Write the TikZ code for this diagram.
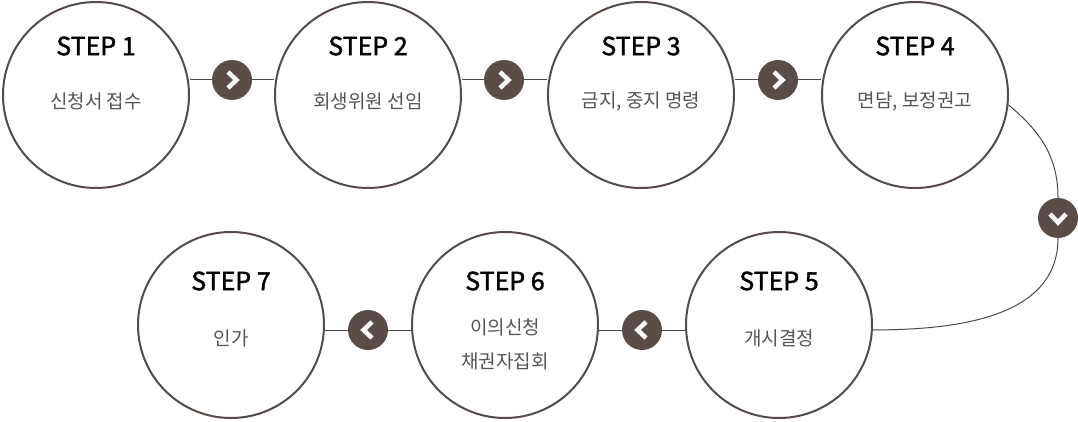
\documentclass[tikz,border=0pt]{standalone}
\usepackage{fontspec}
\setmainfont{Noto Sans CJK KR}
\newfontfamily\stepfont[FakeBold=1.6]{Noto Sans CJK KR}
\usetikzlibrary{arrows,positioning}
\definecolor{ring}{HTML}{564B47}
\definecolor{badgefill}{HTML}{5A4C47}
\definecolor{wiregray}{HTML}{4A4A4A}
\definecolor{bodytext}{HTML}{555555}
\tikzset{
    %Define style for step circles
    stepcirc/.style={
           circle,
           draw=ring, line width=2pt,
           fill=white,
           minimum size=186pt,
           inner sep=0pt},
    %Define style for arrow badges
    badge/.style={
           circle,
           fill=badgefill,
           minimum size=40pt,
           inner sep=0pt},
    steptitle/.style={
           font=\fontsize{25}{25}\selectfont\stepfont,
           text=black,
           inner sep=0pt},
    stepbody/.style={
           font=\fontsize{19}{34}\selectfont,
           text=bodytext,
           align=center,
           inner sep=0pt},
    % Define line styles
    wire/.style={
           draw=wiregray,
           line width=1pt},
    chev/.style={
           draw=white,
           line width=4.5pt,
           line join=miter}
}
\begin{document}
\begin{tikzpicture}[x=1pt,y=1pt]
\useasboundingbox (0,0) rectangle (1078,421);
\node[stepcirc](1) at (96,326){};
\node[stepcirc](2) at (368,326){};
\node[stepcirc](3) at (641,326){};
\node[stepcirc](4) at (915,326){};
\node[stepcirc](5) at (779,96){};
\node[stepcirc](6) at (505,96){};
\node[stepcirc](7) at (231,96){};
\node[steptitle](t1) at ([yshift=49]1.center){STEP 1};
\node[steptitle](t2) at ([yshift=49]2.center){STEP 2};
\node[steptitle](t3) at ([yshift=49]3.center){STEP 3};
\node[steptitle](t4) at ([yshift=49]4.center){STEP 4};
\node[steptitle](t5) at ([yshift=44]5.center){STEP 5};
\node[steptitle](t6) at ([yshift=44]6.center){STEP 6};
\node[steptitle](t7) at ([yshift=44]7.center){STEP 7};
\node[stepbody](b1) at ([yshift=-6]1.center){신청서 접수};
\node[stepbody](b2) at ([yshift=-6]2.center){회생위원 선임};
\node[stepbody](b3) at ([yshift=-6]3.center){금지, 중지 명령};
\node[stepbody](b4) at ([yshift=-6]4.center){면담, 보정권고};
\node[stepbody](b5) at ([yshift=-13]5.center){개시결정};
\node[stepbody](b6) at ([yshift=-19]6.center){이의신청\\채권자집회};
\node[stepbody](b7) at ([yshift=-13]7.center){인가};
\node[badge](12) at (232,341){};
\node[badge](23) at (504,341){};
\node[badge](34) at (778,341){};
\node[badge](45) at (1058,203){};
\node[badge](56) at (642,91){};
\node[badge](67) at (368,91){};
\path[wire]
	(12.west) edge (12.west -| 1.east)
	(12.east) edge (12.east -| 2.west)
	(23.west) edge (23.west -| 2.east)
	(23.east) edge (23.east -| 3.west)
	(34.west) edge (34.west -| 3.east)
	(34.east) edge (34.east -| 4.west)
	(56.east) edge (56.east -| 5.west)
	(56.west) edge (56.west -| 6.east)
	(67.east) edge (67.east -| 6.west)
	(67.west) edge (67.west -| 7.east);
\draw[wire] (4.-6) to[out=-40,in=90] (45.north);
\draw[wire] (45.south) to[out=-90,in=0] (5.-3);
% chevrons inside the badges
\draw[chev] ([shift={(-4,8)}]12.center) -- ([shift={(4.5,0)}]12.center) -- ([shift={(-4,-8)}]12.center);
\draw[chev] ([shift={(-4,8)}]23.center) -- ([shift={(4.5,0)}]23.center) -- ([shift={(-4,-8)}]23.center);
\draw[chev] ([shift={(-4,8)}]34.center) -- ([shift={(4.5,0)}]34.center) -- ([shift={(-4,-8)}]34.center);
\draw[chev] ([shift={(-8,4)}]45.center) -- ([shift={(0,-4.5)}]45.center) -- ([shift={(8,4)}]45.center);
\draw[chev] ([shift={(4,8)}]56.center) -- ([shift={(-4.5,0)}]56.center) -- ([shift={(4,-8)}]56.center);
\draw[chev] ([shift={(4,8)}]67.center) -- ([shift={(-4.5,0)}]67.center) -- ([shift={(4,-8)}]67.center);
\end{tikzpicture}
\end{document}
